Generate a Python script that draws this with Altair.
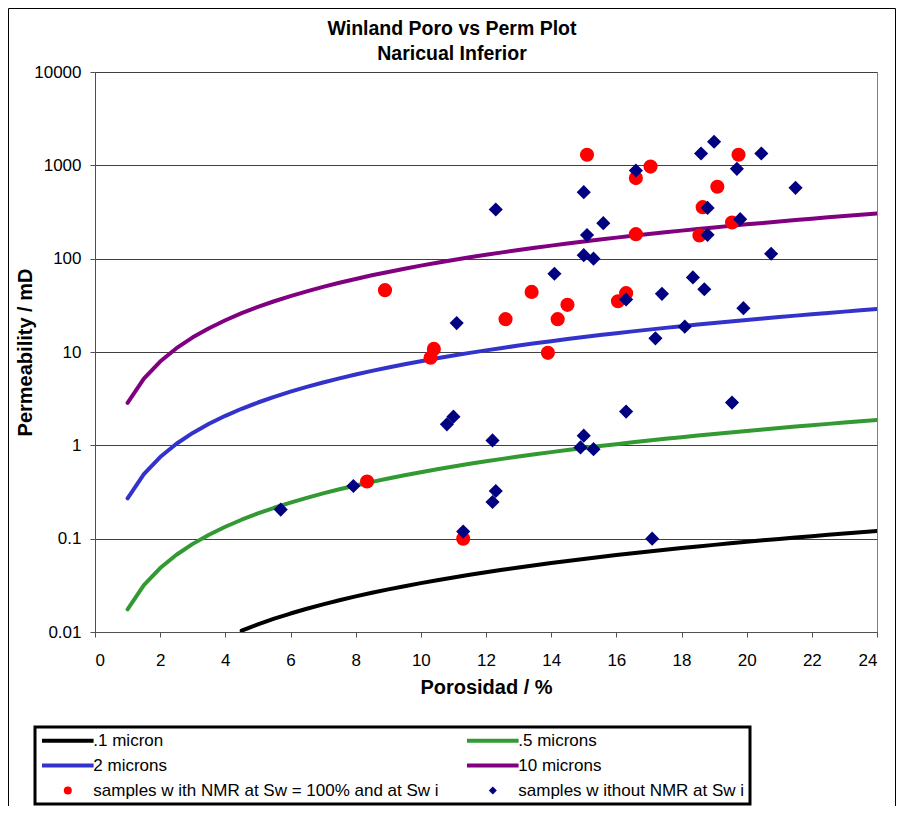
import altair as alt
import pandas as pd

# ---- data ----
POROSITY = [1, 1.5, 2, 2.5, 3, 3.5, 4, 4.5, 5, 5.5, 6, 6.5, 7, 7.5, 8, 8.5, 9, 9.5,
            10, 10.5, 11, 11.5, 12, 12.5, 13, 13.5, 14, 14.5, 15, 15.5, 16, 16.5,
            17, 17.5, 18, 18.5, 19, 19.5, 20, 20.5, 21, 21.5, 22, 22.5, 23, 23.5, 24]

K_10 = [2.856, 5.183, 7.910, 10.98, 14.35, 18.00, 21.90, 26.04, 30.39, 34.97, 39.73,
        44.70, 49.84, 55.16, 60.64, 66.30, 72.11, 78.06, 84.19, 90.42, 96.83, 103.4,
        110.0, 116.8, 123.8, 130.8, 138.0, 145.3, 152.7, 160.3, 168.0, 175.7, 183.6,
        191.6, 199.7, 207.9, 216.2, 224.6, 233.1, 241.7, 250.4, 259.2, 268.1, 277.1,
        286.2, 295.4, 304.7]

K_2 = [0.2703, 0.4905, 0.7485, 1.039, 1.358, 1.703, 2.072, 2.464, 2.876, 3.309, 3.760,
       4.230, 4.716, 5.220, 5.738, 6.274, 6.824, 7.387, 7.967, 8.556, 9.163, 9.785,
       10.41, 11.05, 11.72, 12.38, 13.06, 13.75, 14.45, 15.17, 15.90, 16.63, 17.37,
       18.13, 18.90, 19.67, 20.46, 21.25, 22.06, 22.87, 23.70, 24.53, 25.37, 26.22,
       27.08, 27.95, 28.83]

K_05 = [0.0175, 0.03176, 0.04847, 0.06728, 0.08793, 0.1103, 0.1342, 0.1596, 0.1862,
        0.2143, 0.2434, 0.2739, 0.3054, 0.3380, 0.3716, 0.4063, 0.4419, 0.4783, 0.5159,
        0.5541, 0.5933, 0.6336, 0.6740, 0.7157, 0.7586, 0.8015, 0.8456, 0.8903, 0.9357,
        0.9822, 1.029, 1.077, 1.125, 1.174, 1.224, 1.274, 1.325, 1.376, 1.428, 1.481,
        1.534, 1.588, 1.643, 1.698, 1.754, 1.810, 1.867]

# .1 micron line is visible from 4.5 % porosity (below 0.01 mD before that)
K_01 = [0.01033, 0.01206, 0.01388, 0.01577, 0.01774, 0.01978, 0.02189, 0.02406,
        0.02631, 0.02862, 0.03098, 0.03341, 0.03588, 0.03843, 0.04103, 0.04365,
        0.04635, 0.04913, 0.05191, 0.05476, 0.05766, 0.06060, 0.06361, 0.06667,
        0.06973, 0.07286, 0.07604, 0.07925, 0.08250, 0.08580, 0.08913, 0.09250,
        0.09592, 0.09937, 0.1029, 0.1064, 0.1100, 0.1136, 0.1172, 0.1209]

RED_X = [15.1, 8.9, 13.4, 12.6, 14.5, 14.2, 10.4, 10.3, 13.9, 16.05, 17.05, 16.6,
         19.75, 19.1, 18.65, 19.55, 16.6, 18.55, 16.3, 8.35, 11.3]
RED_K = [1300, 46, 44, 22.5, 32, 22.5, 10.8, 8.7, 9.8, 35, 970, 730,
         1300, 590, 356, 244, 183, 177, 42.7, 0.41, 0.1]

BLUE_X = [12.3, 15.0, 15.6, 15.1, 15.0, 15.3, 14.1, 11.1, 19.0, 18.6, 20.45, 19.7,
          16.6, 21.5, 18.8, 19.8, 18.8, 20.75, 18.35, 18.7, 17.4, 16.3, 19.9, 18.1,
          17.2, 11.0, 10.8, 12.2, 7.93, 5.7, 12.3, 12.2, 11.3, 19.55, 16.3, 15.0,
          14.9, 15.3, 17.1]
BLUE_K = [336, 516, 240, 179, 109, 100, 69, 20.4, 1790, 1340, 1340, 917,
          880, 574, 350, 265, 180, 113, 63, 47, 42, 36.5, 29.5, 18.7,
          14, 2.03, 1.68, 1.13, 0.367, 0.205, 0.324, 0.247, 0.119, 2.87, 2.3, 1.27,
          0.95, 0.91, 0.1]

SERIES = [".1 micron", ".5 microns", "2 microns", "10 microns",
          "samples w ith NMR at Sw = 100% and at Sw i",
          "samples w ithout NMR at Sw i"]
COLORS = ["#000000", "#339933", "#3333CC", "#800080", "#FF0000", "#000080"]
LINE_SYMBOL = "M-6.45,-0.5L6.45,-0.5L6.45,0.5L-6.45,0.5Z"
SHAPES = [LINE_SYMBOL] * 4 + ["circle", "diamond"]

# ---- tables ----
line_rows = []
for xs, ks, name in [(POROSITY[7:], K_01, SERIES[0]), (POROSITY, K_05, SERIES[1]),
                     (POROSITY, K_2, SERIES[2]), (POROSITY, K_10, SERIES[3])]:
    for x, k in zip(xs, ks):
        line_rows.append({"phi": x, "k": k, "series": name})
lines_df = pd.DataFrame(line_rows)

pt_rows = [{"phi": x, "k": k, "series": SERIES[4]} for x, k in zip(RED_X, RED_K)]
pt_rows += [{"phi": x, "k": k, "series": SERIES[5]} for x, k in zip(BLUE_X, BLUE_K)]
pts_df = pd.DataFrame(pt_rows)

FONT = "Liberation Sans"

x_scale = alt.Scale(domain=[0, 24], nice=False)
y_scale = alt.Scale(type="log", domain=[0.01, 10000], nice=False)
color_scale = alt.Scale(domain=SERIES, range=COLORS)
shape_scale = alt.Scale(domain=SERIES, range=SHAPES)
# line colours: a separate scale (only the four curves) so that its hidden
# legend is not merged with the combined legend below
stroke_scale = alt.Scale(domain=SERIES[:4], range=COLORS[:4])

x_axis = alt.Axis(title="Porosidad / %", values=list(range(0, 25, 2)), grid=False,
                  tickSize=5, labelPadding=28, labelBaseline="alphabetic",
                  titleX=391, titleY=61, titleBaseline="alphabetic", titleAlign="center")
y_axis = alt.Axis(title="Permeability / mD",
                  values=[0.01, 0.1, 1, 10, 100, 1000, 10000], format="~g",
                  grid=True, gridColor="#404040", gridWidth=1,
                  tickSize=5, labelPadding=9,
                  titleX=-64, titleY=280, titleAngle=-90, titleBaseline="alphabetic",
                  titleAlign="center")

legend = alt.Legend(title=None, orient="none", legendX=-60, legendY=655, columns=2,
                    direction="horizontal",
                    gridAlign="all", columnPadding=26, rowPadding=7, padding=5,
                    symbolSize=64, symbolOffset=19.3, labelOffset=17,
                    labelFont=FONT, labelFontSize=17, labelColor="black",
                    labelLimit=600, symbolStrokeWidth=0, strokeColor="black")

lines = alt.Chart(lines_df).mark_line(
    strokeWidth=4, clip=True, strokeCap="round", strokeJoin="round"
).encode(
    x=alt.X("phi:Q", scale=x_scale, axis=x_axis),
    y=alt.Y("k:Q", scale=y_scale, axis=y_axis),
    stroke=alt.Stroke("series:N", scale=stroke_scale, legend=None),
)

points = alt.Chart(pts_df).mark_point(
    filled=True, size=200, opacity=1, strokeWidth=0
).encode(
    x=alt.X("phi:Q", scale=x_scale),
    y=alt.Y("k:Q", scale=y_scale),
    color=alt.Color("series:N", scale=color_scale, legend=legend),
    shape=alt.Shape("series:N", scale=shape_scale, legend=legend),
)

frame = alt.Chart(alt.Data(values=[{}])).mark_rect(
    filled=False, stroke="black", strokeWidth=1
).encode(
    x=alt.value(-86.5), x2=alt.value(800.5), y=alt.value(-63.5), y2=alt.value(1000)
)

chart = alt.layer(frame, lines, points).properties(
    width=782, height=560,
    padding={"left": 87, "top": 64, "right": 19, "bottom": 174},
    autosize="none",
    title=alt.Title(["Winland Poro vs Perm Plot", "Naricual Inferior"],
                    font=FONT, fontSize=19.5, fontWeight="bold", color="black",
                    lineHeight=25, anchor="middle", frame="group", dx=-34, offset=-56),
).configure_view(
    stroke="#808080", strokeWidth=1
).configure_axis(
    labelFont=FONT, labelFontSize=17, labelColor="black",
    titleFont=FONT, titleFontSize=20, titleFontWeight="bold", titleColor="black",
    domainColor="#505050", tickColor="#505050", domainWidth=1, tickWidth=1,
).configure_legend(
    strokeWidth=3
)

chart.save("out.html", embed_options={"renderer": "svg", "actions": False})
